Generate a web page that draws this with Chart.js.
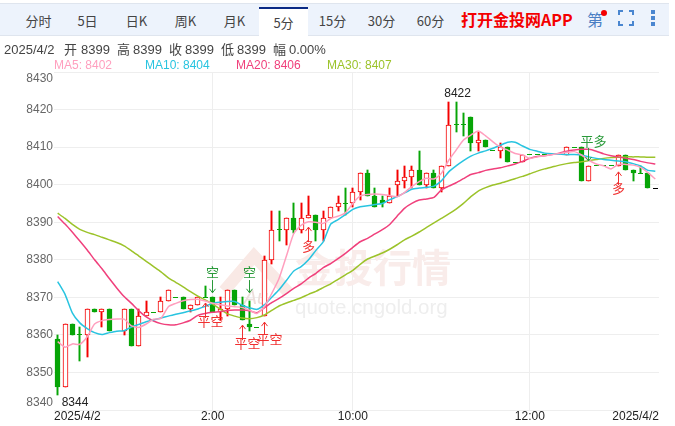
<!DOCTYPE html>
<html>
<head>
<meta charset="utf-8">
<script src="https://cdn.jsdelivr.net/npm/chart.js@4/dist/chart.umd.min.js"></script>
<style>
  html, body { margin: 0; padding: 0; background: #fff; overflow: hidden; }
  body { width: 675px; height: 426px; position: relative; font-family: "Liberation Sans", Arial, "Noto Sans CJK SC", sans-serif; }
  canvas { position: absolute; left: 0; top: 0; }
  .bar { position: absolute; left: 0; top: 3px; width: 669px; height: 31px; background: #edf3fc; border-top: 1px solid #dfe5ee; border-bottom: 1px solid #dfe5ee; }
  .tab { position: absolute; top: 0; width: 49px; height: 31px; line-height: 34px; text-align: center; font-size: 13px; color: #444; font-family: "Noto Sans CJK SC", sans-serif; }
  .tab.on { background: #fff; top: 3px; height: 29px; line-height: 27px; border-top: 2px solid #0a2a85; box-sizing: border-box; }
  .app { position: absolute; left: 461px; top: 3px; font: bold 16px/24px "Noto Sans CJK SC", sans-serif; color: #f40000; white-space: nowrap; }
  .first { position: absolute; left: 587px; top: 3px; font: 16px/24px "Noto Sans CJK SC", sans-serif; color: #4a7fc4; }
  .dot { position: absolute; left: 601px; top: 6px; width: 6px; height: 6px; border-radius: 3px; background: #f40000; }
  .full { position: absolute; left: 618px; top: 6px; width: 16px; height: 16px; color: #4a86d0; }
  .more { position: absolute; left: 651px; top: 6px; width: 4px; height: 4px; background: #4a86d0; box-shadow: 0 6px #4a86d0, 0 12px #4a86d0; }
  .t { position: absolute; white-space: nowrap; font-size: 13px; line-height: 16px; color: #444; }
  .ma { position: absolute; top: 57px; white-space: nowrap; font-size: 12px; line-height: 16px; }
</style>
</head>
<body>
<canvas id="kline" width="675" height="426"></canvas>
<div class="bar" id="bar">
  <div class="app">打开金投网APP</div>
  <div class="first">第</div>
  <div class="dot"></div>
  <svg class="full" viewBox="0 0 16 16" fill="none" stroke="currentColor" stroke-width="2"><path d="M1 5V1H5M11 1H15V5M15 11V15H11M5 15H1V11"/></svg>
  <div class="more"></div>
</div>
<div id="info"></div>
<script>
const tabNames = ["分时", "5日", "日K", "周K", "月K", "5分", "15分", "30分", "60分"];
const activeTab = "5分";
const infoText = ["2025/4/2", "开", "8399", "高", "8399", "收", "8399", "低", "8399", "幅", "0.00%"];
const infoLeft = [4, 64, 81, 117, 133, 169, 185, 221, 237, 273, 289];
const maNames = ["MA5: 8402", "MA10: 8404", "MA20: 8406", "MA30: 8407"];
const maLeft = [54, 145, 236, 327];
const maColors = ["#ff9fbe", "#28c4e0", "#f0407c", "#9cc32a"];

const opens = [8359,8346,8363,8360,8360,8367,8366,8367,null,8361,8367,8357,8365,8366,8366,8369,8370,8370,8367,8368,8370,8370,8366,8367,8372,8368,8363,8362,8365,8380,8388,8388,8391,8388,8391,8392,8388,8391,8394,8395,8395,8398,8403,8397,8396,8395,8400,8401,8402,8404,8400,8403,8399,8405,8416,8416,8418,8411,8412,8409,8409,8410,8406,8406,8408,8408,8408,null,null,8408,8410,8410,8401,8405,8405,8405,8405,8408,8404,8403,8403,8399];
const closes = [8346,8363,8360,8360,8367,8366,8367,8361,null,8367,8357,8365,8366,8366,8369,8372,8370,8367,8368,8370,8370,8366,8367,8372,8368,8364,8362,8362,8380,8388,8388,8391,8388,8391,8392,8388,8391,8394,8395,8395,8398,8403,8397,8394,8395,8397,8401,8402,8404,8400,8403,8399,8405,8416,8416,8416,8411,8412,8410,8409,8410,8406,8406,8408,8408,8408,8408,null,null,8410,8410,8401,8405,8405,8405,8405,8408,8404,8403,8403,8399,8399];
const highs = [8360,8363,8363,8362,8367,8367,8367,8367,null,8367,8367,8367,8369,8366,8370,8372,8370,8370,8368,8370,8373,8370,8370,8372,8372,8370,8369,8362,8381,8393,8393,8391,8395,8395,8397,8392,8393,8394,8397,8399,8399,8403,8404,8399,8397,8399,8404,8405,8405,8409,8403,8404,8405,8422,8422,8419,8418,8414,8412,8409,8411,8410,8406,8408,8408,8408,8408,null,null,8410,8410,8410,8405,8405,8405,8405,8408,8408,8404,8405,8403,8399];
const lows = [8344,8346,8360,8353,8354,8366,8362,8361,null,8360,8357,8357,8365,8366,8366,8369,8370,8367,8366,8368,8370,8366,8364,8365,8368,8364,8361,8362,8365,8379,8385,8384,8387,8387,8391,8385,8385,8391,8393,8392,8394,8396,8397,8394,8394,8395,8397,8399,8399,8400,8399,8399,8398,8405,8414,8413,8409,8409,8410,8409,8407,8406,8406,8406,8408,8408,8408,null,null,8408,8410,8401,8401,8405,8405,8405,8405,8404,8401,8403,8399,8399];

const ma5 = [8358.2,8356.7,8357.6,8357.5,8359.5,8362.9,8363.8,8364.1,8364.2,8364.2,8362.4,8362,8362.9,8364.2,8364.4,8367.5,8368.4,8369.1,8369.4,8369.5,8369,8368.4,8368,8367.7,8367.5,8367.3,8366.6,8365.7,8367.5,8371,8375,8381,8387,8389.2,8390.1,8390,8389.7,8391,8391.6,8392.5,8395,8397,8397.4,8397.5,8397.4,8397.1,8396.8,8397.9,8399.5,8400.8,8401.7,8401.5,8403,8406.5,8409.2,8411.9,8413.2,8414.3,8413,8411.4,8410,8409.2,8408.3,8407.9,8407,8407.4,8407.7,8408,8408.3,8408.6,8408.8,8407.9,8406.5,8405.5,8405,8404.2,8405.4,8405.4,8405.2,8404.6,8403.2,8401.5];
const ma10 = [8374.2,8370.8,8365.8,8363.2,8361.7,8360.6,8360.1,8360.6,8361,8361.1,8362.1,8362.8,8363.5,8364,8364.5,8365,8365.5,8365.9,8366.4,8366.9,8367.6,8368.4,8368.7,8368.9,8368.9,8367.9,8367.2,8366.8,8368,8370,8372,8374.5,8377,8378.2,8380,8382.5,8384.8,8389.5,8390.7,8392,8393.4,8394.1,8394.4,8394.7,8395,8396,8396.8,8397.8,8398.8,8399.1,8399.3,8399.6,8401,8403.4,8405,8406.4,8407.6,8408.4,8409,8409.7,8410.5,8411.3,8411.3,8410.3,8409.4,8408.9,8408.4,8408.2,8408.1,8408,8408,8407.9,8407.4,8407,8406.7,8406.5,8406.3,8406.1,8405.6,8405,8403.8,8403.6];
const ma20 = [8391.5,8389.5,8387.3,8385,8382.6,8380,8377.6,8375,8372.5,8370.2,8368.4,8366.4,8364.8,8363.7,8363,8362.7,8362.7,8363.2,8363.9,8365.2,8365.7,8366,8366.2,8366.5,8366.6,8366.6,8366.4,8365.9,8367.2,8368.6,8369.7,8371,8372.4,8373.6,8375.1,8376.4,8377.9,8379,8380.3,8381.7,8383.3,8384.8,8385.7,8386.9,8388,8389.4,8391.6,8393.7,8395,8395.9,8396.2,8396.6,8398.6,8399.6,8400.5,8401.6,8402.7,8403.2,8403.8,8404.2,8404.5,8405,8405.5,8406.2,8407,8407.5,8407.7,8408,8408.4,8408.9,8409.2,8409.4,8409.4,8408.9,8408.2,8407.7,8407.4,8407,8406.7,8406.2,8405.8,8405.5];
const ma30 = [8392.4,8391,8389.4,8388.1,8387.3,8386.7,8386,8385.3,8384.6,8383.7,8382.4,8381,8379.6,8378.2,8376.8,8375.2,8374,8372.8,8371.5,8370.3,8369.3,8368.2,8366.9,8365.6,8365,8364.5,8364.3,8364.6,8365.3,8366.5,8367.7,8368.5,8369.2,8369.9,8370.8,8371.6,8372.6,8373.6,8374.8,8376,8377.2,8378.8,8380.2,8381,8381.8,8382.8,8384,8385.3,8386.3,8387.4,8388.6,8389.8,8391,8392.2,8393.5,8395,8396.8,8398.3,8399.2,8399.9,8400.4,8401,8401.6,8402.2,8402.9,8403.6,8404.2,8404.7,8405.2,8405.6,8405.9,8406.1,8406.4,8406.7,8407,8407.2,8407.3,8407.4,8407.4,8407.4,8407.3,8407.3];

const yTicks = [8340, 8350, 8360, 8370, 8380, 8390, 8400, 8410, 8420, 8430];
const gridIndex = [21, 40, 64];
const gridLabels = ["2:00", "10:00", "12:00"];
const edgeLabel = "2025/4/2";

// 最高最低价标注
const extremeText = ["8344", "8422"];
const extremeIndex = [0, 54];
const extremeValue = [8344, 8422];

// 开平仓信号
const signalText = ["空", "空", "平空", "平空", "平空", "平多", "多", "多"];
const signalIndex = [21, 26, 20, 25, 28, 72, 34, 76];
const signalFrom = [8374.6, 8374.6, 8364.5, 8358.6, 8360, 8409.8, 8384.7, 8399.9];
const signalTo = [8371.2, 8371.2, 8368.5, 8362.6, 8363.4, 8406.3, 8388.7, 8403.4];
const signalLabel = [8376.7, 8376.7, 8363.7, 8357.8, 8358.9, 8411.7, 8383.7, 8399.1];

const RED = "#f40000";
const GREEN = "#07a507";
const categories = opens.map((_, i) => String(i));
const lastIndex = categories.length - 1;

function candleColor(i) {
  if (i === lastIndex) return "#000";
  return closes[i] > opens[i] ? RED : GREEN;
}

const tabBox = document.getElementById("bar");
tabNames.forEach((name, i) => {
  const el = document.createElement("div");
  el.className = name === activeTab ? "tab on" : "tab";
  el.style.left = 14 + i * 49 + "px";
  el.textContent = name;
  tabBox.appendChild(el);
});
const infoBox = document.getElementById("info");
infoText.forEach((text, i) => {
  const el = document.createElement("div");
  el.className = "t";
  el.style.left = infoLeft[i] + "px";
  el.style.top = "42px";
  el.textContent = text;
  infoBox.appendChild(el);
});
maNames.forEach((text, i) => {
  const el = document.createElement("div");
  el.className = "ma";
  el.style.left = maLeft[i] + "px";
  el.style.color = maColors[i];
  el.textContent = text;
  infoBox.appendChild(el);
});

const watermark = {
  id: "watermark",
  beforeDatasetsDraw(chart) {
    const c = chart.ctx;
    c.save();
    c.strokeStyle = "#f9e9e5";
    c.lineWidth = 12;
    c.beginPath();
    c.moveTo(224, 291);
    c.lineTo(254, 256);
    c.lineTo(288, 292);
    c.stroke();
    c.fillStyle = "#ecdedb";
    c.font = "italic 20px 'Liberation Sans'";
    c.textAlign = "center";
    c.textBaseline = "middle";
    c.fillText("Au", 256, 298);
    c.fillStyle = "#f9ecea";
    c.font = "bold 39px 'Noto Sans CJK SC'";
    c.textAlign = "left";
    c.fillText("金投行情", 295, 267);
    c.fillStyle = "#eeeeee";
    c.font = "20.5px 'Liberation Sans'";
    c.fillText("quote.cngold.org", 295, 308);
    c.restore();
  }
};

// 蜡烛对齐到整像素，保持线条清晰
const snapCandles = {
  id: "snapCandles",
  beforeDatasetsDraw(chart) {
    chart.data.datasets.forEach((ds, k) => {
      const meta = chart.getDatasetMeta(k);
      if (ds.type === "bar") {
        meta.data.forEach((el) => {
          el.x = Math.floor(el.x) + 0.5;
          el.y = Math.round(el.y);
          el.base = Math.round(el.base);
        });
      } else if (ds.label === "doji") {
        meta.data.forEach((el) => {
          el.x = Math.floor(el.x) + 0.5;
          el.y = Math.floor(el.y) + 0.5;
        });
      }
    });
  }
};

const labelsLayer = {
  id: "labelsLayer",
  afterDatasetsDraw(chart) {
    const c = chart.ctx;
    const x = chart.scales.x;
    const y = chart.scales.y;
    const area = chart.chartArea;
    c.save();
    c.textBaseline = "middle";

    c.font = "12px 'Liberation Sans'";
    c.fillStyle = "#666";
    c.textAlign = "right";
    yTicks.forEach((v, i) => {
      let py = y.getPixelForValue(v);
      if (i === 0) py -= 7;
      if (i === yTicks.length - 1) py += 7;
      c.fillText(v, 53, py);
    });

    c.fillStyle = "#222";
    c.textAlign = "center";
    gridIndex.forEach((idx, i) => c.fillText(gridLabels[i], x.getPixelForValue(idx), area.bottom + 7));
    c.textAlign = "left";
    c.fillText(edgeLabel, area.left, area.bottom + 7);
    c.textAlign = "right";
    c.fillText(edgeLabel, area.right, area.bottom + 7);

    c.textAlign = "left";
    c.fillText(extremeText[0], x.getPixelForValue(extremeIndex[0]) + 4, y.getPixelForValue(extremeValue[0]) + 8);
    c.textAlign = "center";
    c.fillText(extremeText[1], x.getPixelForValue(extremeIndex[1]) + 1.5, y.getPixelForValue(extremeValue[1]) - 8);

    signalText.forEach((text, i) => {
      const color = text === "空" || text === "平多" ? "#2a9a3a" : "#f03030";
      const px = Math.floor(x.getPixelForValue(signalIndex[i])) + 0.5;
      const from = y.getPixelForValue(signalFrom[i]);
      const to = y.getPixelForValue(signalTo[i]);
      const dir = to > from ? 1 : -1;
      c.strokeStyle = color;
      c.lineWidth = 1;
      c.beginPath();
      c.moveTo(px, from);
      c.lineTo(px, to);
      c.moveTo(px - 3, to - dir * 4);
      c.lineTo(px, to);
      c.lineTo(px + 3, to - dir * 4);
      c.stroke();
      c.fillStyle = color;
      c.font = "13px 'Noto Sans CJK SC'";
      c.textAlign = "center";
      c.fillText(text, text.length > 1 ? px + 5 : px, y.getPixelForValue(signalLabel[i]));
    });
    c.restore();
  }
};

function maLine(label, data, color) {
  return { type: "line", label, data, borderColor: color, borderWidth: 1.5, pointRadius: 0, tension: 0.2, order: 1 };
}

new Chart(document.getElementById("kline"), {
  data: {
    labels: categories,
    datasets: [
      maLine("MA5", ma5, maColors[0]),
      maLine("MA10", ma10, maColors[1]),
      maLine("MA20", ma20, maColors[2]),
      maLine("MA30", ma30, maColors[3]),
      {
        type: "line",
        label: "doji",
        data: closes.map((v, i) => (v === opens[i] ? v : null)),
        showLine: false,
        pointStyle: "line",
        pointRadius: 2.5,
        pointBorderWidth: 1,
        pointBorderColor: categories.map((_, i) => candleColor(i)),
        order: 2
      },
      {
        type: "bar",
        label: "body",
        data: opens.map((v, i) => (v === null || v === closes[i] ? null : [v, closes[i]])),
        barThickness: 5,
        borderWidth: 1,
        borderSkipped: false,
        borderColor: categories.map((_, i) => candleColor(i)),
        backgroundColor: categories.map((_, i) => (candleColor(i) === RED ? "#fff" : GREEN)),
        grouped: false,
        order: 3
      },
      {
        type: "bar",
        label: "wick",
        data: lows.map((v, i) => (v === null || v === highs[i] ? null : [v, highs[i]])),
        barThickness: 1.3,
        borderWidth: 0,
        backgroundColor: categories.map((_, i) => candleColor(i)),
        grouped: false,
        order: 4
      }
    ]
  },
  options: {
    responsive: false,
    animation: false,
    layout: { padding: { left: 54, right: 16, top: 72, bottom: 16 } },
    plugins: { legend: { display: false }, tooltip: { enabled: false } },
    scales: {
      x: {
        type: "category",
        offset: true,
        ticks: { display: false },
        grid: { color: "#eeeeee", offset: false, drawTicks: false },
        border: { display: false },
        afterBuildTicks(scale) {
          scale.ticks = scale.ticks.filter((t) => gridIndex.includes(t.value));
        }
      },
      y: {
        min: 8340,
        max: 8430,
        ticks: { display: false, stepSize: 10 },
        grid: { color: "#eeeeee", drawTicks: false },
        border: { display: false }
      }
    }
  },
  plugins: [watermark, snapCandles, labelsLayer]
});
</script>
</body>
</html>
